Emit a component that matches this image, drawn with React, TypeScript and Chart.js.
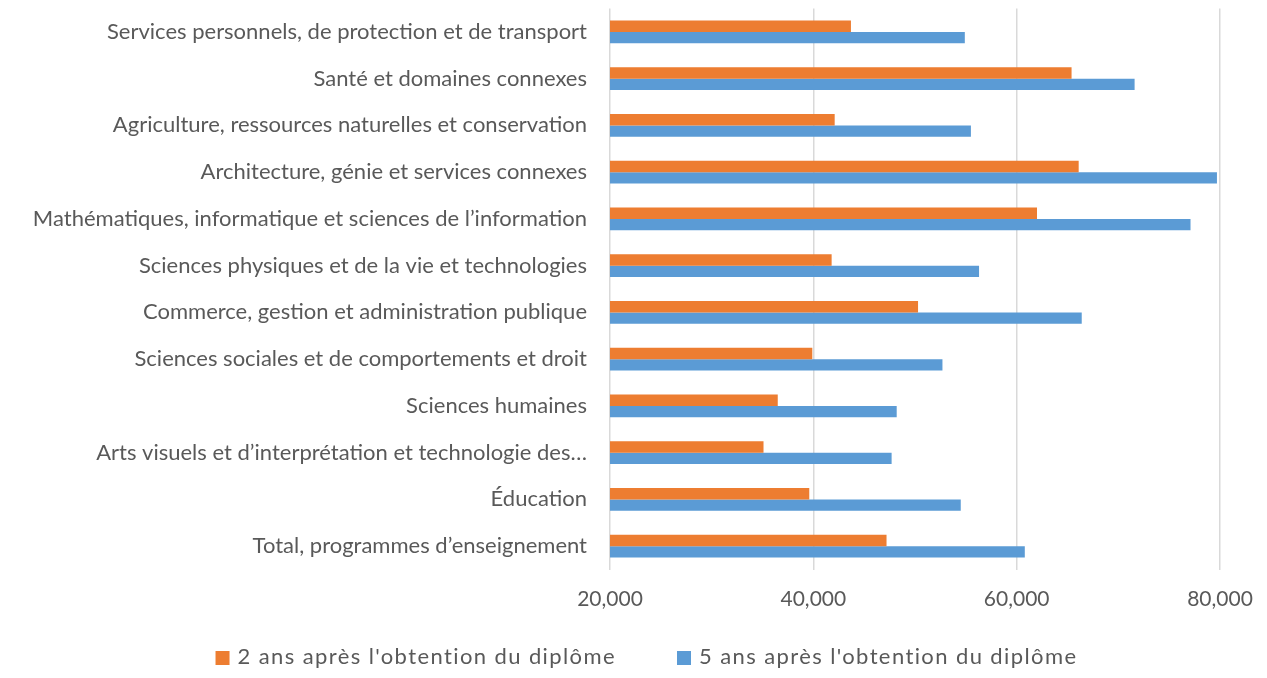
import React, { useEffect, useRef } from "react";
import { Chart, registerables } from "chart.js";

Chart.register(...registerables);

const categories = [
  "Services personnels, de protection et de transport",
  "Santé et domaines connexes",
  "Agriculture, ressources naturelles et conservation",
  "Architecture, génie et services connexes",
  "Mathématiques, informatique et sciences de l’information",
  "Sciences physiques et de la vie et technologies",
  "Commerce, gestion et administration publique",
  "Sciences sociales et de comportements et droit",
  "Sciences humaines",
  "Arts visuels et d’interprétation et technologie des…",
  "Éducation",
  "Total, programmes d’enseignement",
];

const seriesNames = [
  "2 ans après l'obtention du diplôme",
  "5 ans après l'obtention du diplôme",
];

const twoYears = [43700, 65400, 42100, 66100, 62000, 41800, 50300, 39900, 36500, 35100, 39600, 47200];
const fiveYears = [54900, 71600, 55500, 79700, 77100, 56300, 66400, 52700, 48200, 47700, 54500, 60800];

const xTicks = [20000, 40000, 60000, 80000];

const FONT = "Lato";
const TEXT = "#595959";
const COLORS = ["#ED7D31", "#5B9BD5"];

const bottomLegend = {
  id: "bottomLegend",
  afterDraw(chart: any) {
    const ctx = chart.ctx as CanvasRenderingContext2D;
    ctx.save();
    ctx.font = `22px ${FONT}`;
    (ctx as any).letterSpacing = "1.4px";
    ctx.textBaseline = "alphabetic";
    ctx.textAlign = "left";
    const box = 14;
    const gapText = 8;
    const gapItems = 61;
    const items = chart.data.datasets.map((d: any) => ({ text: d.label, color: d.backgroundColor }));
    const widths = items.map((it: any) => box + gapText + ctx.measureText(it.text).width);
    const total = widths.reduce((a: number, b: number) => a + b, 0) + gapItems * (items.length - 1);
    let x = chart.width / 2 + 13 - total / 2;
    const baseline = 664;
    items.forEach((it: any, i: number) => {
      ctx.fillStyle = it.color;
      ctx.fillRect(x, baseline - 13, box, box);
      ctx.fillStyle = TEXT;
      ctx.fillText(it.text, x + box + gapText, baseline);
      x += widths[i] + gapItems;
    });
    ctx.restore();
  },
};

export default function App() {
  const ref = useRef<HTMLCanvasElement | null>(null);
  useEffect(() => {
    if (!ref.current) return;
    const chart = new Chart(ref.current, {
      type: "bar",
      data: {
        labels: categories,
        datasets: [
          {
            label: seriesNames[0],
            data: twoYears,
            backgroundColor: COLORS[0],
            categoryPercentage: 0.485,
            barPercentage: 1,
          },
          {
            label: seriesNames[1],
            data: fiveYears,
            backgroundColor: COLORS[1],
            categoryPercentage: 0.485,
            barPercentage: 1,
          },
        ],
      },
      plugins: [bottomLegend],
      options: {
        indexAxis: "y",
        animation: false,
        responsive: true,
        maintainAspectRatio: false,
        layout: { padding: { left: 8, right: 47, top: 8.5, bottom: 63.5 } },
        plugins: {
          tooltip: { enabled: false },
          legend: { display: false },
        },
        scales: {
          x: {
            min: xTicks[0],
            max: xTicks[xTicks.length - 1],
            afterBuildTicks: (s: any) => {
              s.ticks = xTicks.map((v) => ({ value: v }));
            },
            afterFit: (s: any) => {
              s.height = 45;
              s.paddingLeft = 0;
              s.paddingRight = 0;
            },
            grid: { color: "#d9d9d9", lineWidth: 1.5, drawTicks: false },
            border: { display: false },
            ticks: {
              font: { family: FONT, size: 21 },
              color: TEXT,
              padding: 17,
              maxRotation: 0,
              autoSkip: false,
              callback: (v: any) => Number(v).toLocaleString("en-US"),
            },
          },
          y: {
            afterFit: (s: any) => {
              s.width = 602;
              s.paddingTop = 0;
              s.paddingBottom = 0;
            },
            grid: { display: false, drawTicks: false },
            border: { display: false },
            ticks: {
              font: { family: FONT, size: 22 },
              color: TEXT,
              padding: 23,
              autoSkip: false,
            },
          },
        },
      },
    });
    return () => chart.destroy();
  }, []);
  return (
    <div style={{ position: "fixed", left: 0, top: 0, width: "100vw", height: "100vh", background: "#fff" }}>
      <canvas ref={ref} />
    </div>
  );
}
